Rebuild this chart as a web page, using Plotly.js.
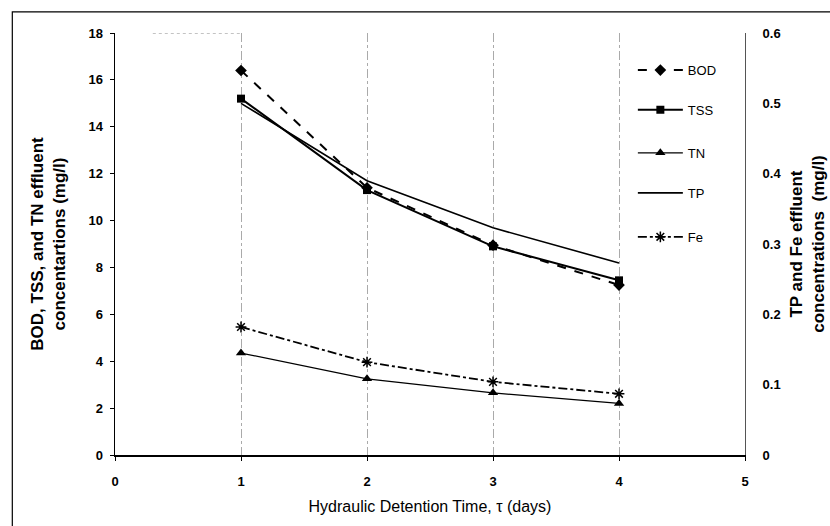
<!DOCTYPE html>
<html><head><meta charset="utf-8">
<script src="https://cdn.plot.ly/plotly-3.0.1.min.js"></script>
<style>body{margin:0;background:#fff}#c{width:830px;height:526px}</style>
</head><body><div id="c"></div>
<script>
const days = [1, 2, 3, 4];
const BOD = [16.4, 11.4, 8.95, 7.25];
const TSS = [15.2, 11.3, 8.9, 7.45];
const TN = [4.35, 3.25, 2.65, 2.2];
const TP = [0.50, 0.39, 0.323, 0.273];
const Fe = [0.182, 0.132, 0.104, 0.087];

const f = 'Arial, "Liberation Sans", sans-serif';
const traces = [
  {x: days, y: BOD, name: 'BOD', legend: 'legend', mode: 'lines+markers', line: {color: '#000', width: 2, dash: 'dash'}, marker: {symbol: 'diamond', size: 9, color: '#000'}},
  {x: days, y: TSS, name: 'TSS', legend: 'legend2', mode: 'lines+markers', line: {color: '#000', width: 2}, marker: {symbol: 'square', size: 8, color: '#000'}},
  {x: days, y: TN, name: 'TN', legend: 'legend3', mode: 'lines+markers', line: {color: '#000', width: 1.3}, marker: {symbol: 'triangle-up', size: 9, color: '#000'}},
  {x: days, y: TP, name: 'TP', legend: 'legend4', mode: 'lines', yaxis: 'y2', line: {color: '#000', width: 1.6}},
  {x: days, y: Fe, name: 'Fe', legend: 'legend5', mode: 'lines+markers', yaxis: 'y2', line: {color: '#000', width: 1.8, dash: 'dashdot'}, marker: {symbol: 'asterisk-open', size: 9, line: {color: '#000', width: 1.5}}}
];

function leg(yp) {
  return {x: 0.822, xanchor: 'left', y: yp, yanchor: 'middle', xref: 'paper', yref: 'paper',
    font: {family: f, size: 13, color: '#000'}, itemwidth: 45, bgcolor: 'rgba(0,0,0,0)'};
}
const tf = {family: f, size: 13, weight: 700, color: '#000'};

const layout = {
  width: 830, height: 526,
  margin: {l: 115, r: 85, t: 33, b: 71},
  paper_bgcolor: '#fff', plot_bgcolor: '#fff',
  showlegend: true,
  legend: leg(0.912), legend2: leg(0.818), legend3: leg(0.716), legend4: leg(0.621), legend5: leg(0.517),
  font: {family: f, color: '#000'},
  xaxis: {range: [0, 5], dtick: 1, showline: true, linecolor: '#000', linewidth: 1.5,
    ticks: 'outside', ticklen: 4, tickcolor: '#000', zeroline: false, ticklabelstandoff: 10,
    showgrid: true, gridcolor: '#aaa', griddash: 'dashdot', gridwidth: 1,
    tickfont: tf,
    title: {text: 'Hydraulic Detention Time, τ (days)', font: {family: f, size: 16}, standoff: 12}},
  yaxis: {range: [0, 18], dtick: 2, showline: true, linecolor: '#000', linewidth: 1.5,
    ticks: 'outside', ticklen: 4, tickcolor: '#000', showgrid: false, zeroline: false,
    tickfont: tf, ticklabelstandoff: 4,
    title: {text: 'BOD, TSS, and TN effluent<br>concentartions (mg/l)', font: {family: f, size: 17, weight: 700}, standoff: 18}},
  yaxis2: {range: [0, 0.6], dtick: 0.1, overlaying: 'y', side: 'right', showline: true,
    linecolor: '#555', linewidth: 1, ticks: '', showgrid: false, zeroline: false,
    tickfont: tf, tickformat: '~g', ticklabelstandoff: 14,
    title: {text: 'TP and Fe effluent<br>concentrations  (mg/l)', font: {family: f, size: 17, weight: 700}, standoff: 9}},
  shapes: [
    {type: 'rect', xref: 'paper', yref: 'paper', x0: -0.163, x1: 1.3, y0: -0.3, y1: 1.05,
      line: {color: '#000', width: 1.2}},
    {type: 'line', xref: 'x', yref: 'y', x0: 0.3, x1: 1.0, y0: 18, y1: 18, line: {color: '#888', width: 1, dash: 'dot'}}
  ]
};
Plotly.newPlot('c', traces, layout, {displayModeBar: false, staticPlot: true});
</script></body></html>
